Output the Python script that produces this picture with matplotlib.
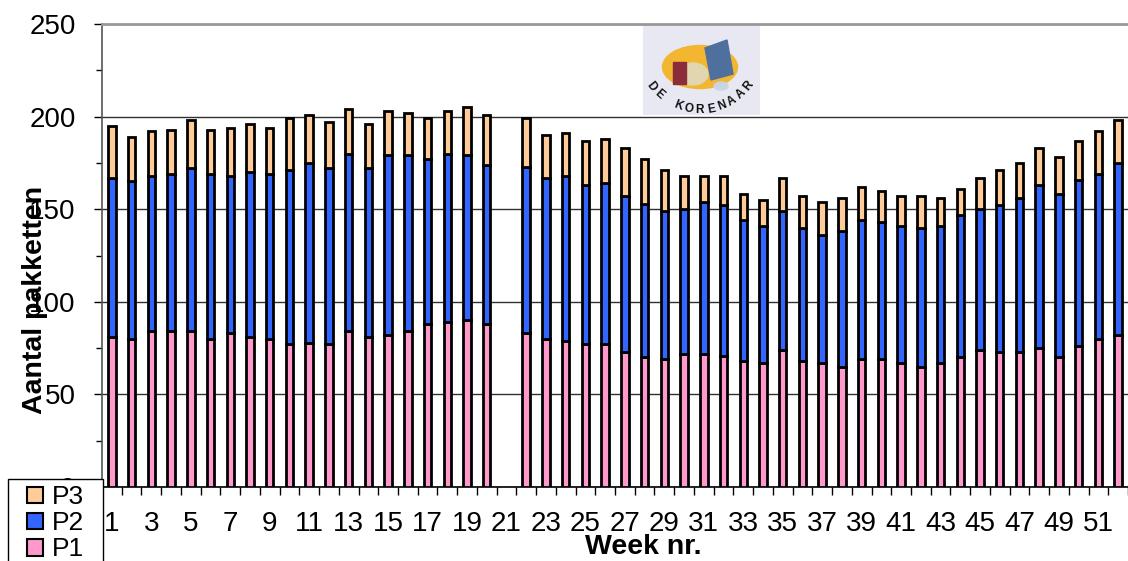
import numpy as np
import matplotlib
matplotlib.use("Agg")
import matplotlib.pyplot as plt
from matplotlib.patches import Ellipse, Rectangle, Polygon

plt.rcParams['font.family'] = ['Liberation Sans', 'DejaVu Sans']

# week numbers 1..52, week 21 has no data
weeks = np.arange(1, 53)
p1 = [81, 80, 84, 84, 84, 80, 83, 81, 80, 77, 78, 77, 84, 81, 82, 84, 88, 89, 90, 88,
      np.nan, 83, 80, 79, 77, 77, 73, 70, 69, 72, 72, 71, 68, 67, 74, 68, 67, 65, 69, 69,
      67, 65, 67, 70, 74, 73, 73, 75, 70, 76, 80, 82]
p2 = [86, 85, 84, 85, 88, 89, 85, 89, 89, 94, 97, 95, 96, 91, 97, 95, 89, 91, 89, 86,
      np.nan, 90, 87, 89, 86, 87, 84, 83, 80, 78, 82, 81, 76, 74, 75, 72, 69, 73, 75, 74,
      74, 75, 74, 77, 76, 79, 83, 88, 88, 90, 89, 93]
p3 = [28, 24, 24, 24, 26, 24, 26, 26, 25, 28, 26, 25, 24, 24, 24, 23, 22, 23, 26, 27,
      np.nan, 26, 23, 23, 24, 24, 26, 24, 22, 18, 14, 16, 14, 14, 18, 17, 18, 18, 18, 17,
      16, 17, 15, 14, 17, 19, 19, 20, 20, 21, 23, 23]
tick_weeks = np.arange(1, 53, 2)

p1 = np.array(p1)
p2 = np.array(p2)
p3 = np.array(p3)

W, H = 1128, 561
fig = plt.figure(figsize=(W / 100, H / 100), dpi=100)
ax = fig.add_axes([102 / W, 1 - 487 / H, 1 - 102 / W, (487 - 24) / H])

bw = 0.38
kw = dict(width=bw, edgecolor='black', linewidth=2.0, zorder=3)
b1 = ax.bar(weeks, p1, color='#ff99cc', label='P1', **kw)
b2 = ax.bar(weeks, p2, bottom=p1, color='#3366ff', label='P2', **kw)
b3 = ax.bar(weeks, p3, bottom=p1 + p2, color='#ffcc99', label='P3', **kw)

ax.set_xlim(0.5, 0.5 + (W - 102) / 19.8)
ax.set_ylim(0, 250)
ax.set_yticks(np.arange(0, 251, 50))
ax.set_yticks(np.arange(25, 250, 50), minor=True)
ax.yaxis.grid(True, which='major', color='#303030', linewidth=1.0)
ax.set_axisbelow(True)

ax.set_xticks(tick_weeks)
ax.set_xticklabels([str(w) for w in tick_weeks])
ax.set_xticks(np.arange(0.5, 53, 1), minor=True)
ax.tick_params(axis='x', which='major', length=0, pad=17, labelsize=20)
ax.tick_params(axis='x', which='minor', length=6, width=1, direction='out')
ax.tick_params(axis='y', which='major', length=6, width=1, pad=13, labelsize=20)
ax.tick_params(axis='y', which='minor', length=4.5, width=1)

ax.spines['right'].set_visible(False)
ax.spines['top'].set_color('#999999')
ax.spines['top'].set_linewidth(2)
ax.spines['left'].set_color('#555555')
ax.spines['left'].set_linewidth(1.2)
ax.spines['bottom'].set_linewidth(1.2)

fig.text(35 / W, 1 - 300 / H, 'Aantal pakketten', rotation=90, ha='center', va='center',
         fontsize=20.5, fontweight='bold')
fig.text(643 / W, 1 - 547 / H, 'Week nr.', ha='center', va='center',
         fontsize=20.5, fontweight='bold')

# legend box drawn by hand so it can run off the bottom edge like the original
box = Rectangle((8 / W, -0.05), 95 / W, 1 - 479 / H + 0.05, transform=fig.transFigure,
                facecolor='white', edgecolor='black', linewidth=1.0, zorder=9)
fig.patches.append(box)
leg = fig.legend(handles=[b3, b2, b1], labels=['P3', 'P2', 'P1'], loc='upper left',
                 bbox_to_anchor=(22 / W, 1 - 480 / H), frameon=False, fontsize=19,
                 handlelength=0.6, handleheight=0.6, handletextpad=0.35,
                 labelspacing=0.08, borderpad=0.2, borderaxespad=0)
leg.set_zorder(10)
for h in leg.legend_handles:
    h.set_linewidth(1.5)

# logo "De Korenaar" (rough drawing)
lx = fig.add_axes([643 / W, 1 - 115 / H, 117 / W, 89 / H])
lx.set_xlim(0, 117)
lx.set_ylim(89, 0)
lx.set_facecolor('#e8e8f2')
lx.set_xticks([])
lx.set_yticks([])
for s in lx.spines.values():
    s.set_visible(False)
lx.add_patch(Ellipse((57, 41), 75, 43, color='#f2b630'))
lx.add_patch(Ellipse((50, 48), 30, 22, color='#e2d6b0'))
lx.add_patch(Rectangle((30, 36), 13, 22, color='#8b2c3a'))
lx.add_patch(Polygon([[62, 22], [84, 14], [90, 48], [68, 54]], closed=True, color='#4f6f9f'))
lx.add_patch(Ellipse((78, 60), 14, 8, color='#c9d4e4'))
word = 'DE KORENAAR'
cx, cy, r = 57, 22, 62
angs = np.linspace(142, 38, len(word))
for ch, a in zip(word, angs):
    t = np.radians(a)
    lx.text(cx + r * np.cos(t), cy + r * np.sin(t), ch, rotation=90 - a,
            ha='center', va='center', fontsize=8.5, fontweight='bold', color='#111111')

fig.savefig('out.png', dpi=100)
